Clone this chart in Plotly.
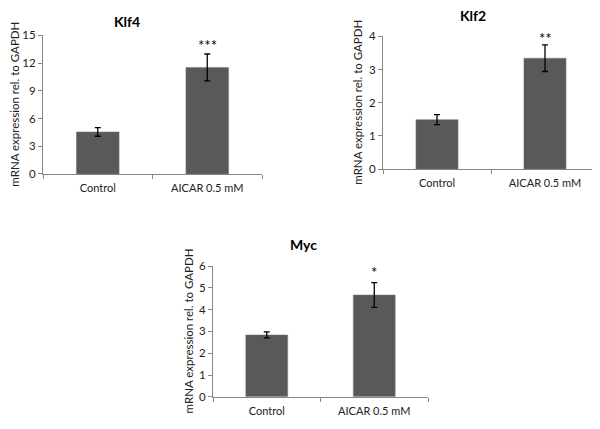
import plotly.graph_objects as go

# The page body has an 8px margin, so the figure is drawn 8px smaller and
# all pixel placements below are shifted by OFF.
OFF = 8
W, H = 600 - OFF, 429 - OFF

categories = ["Control", "AICAR 0.5 mM"]

klf4_values = [4.55, 11.53]
klf4_errors = [0.47, 1.45]
klf2_values = [1.49, 3.34]
klf2_errors = [0.15, 0.40]
myc_values = [2.84, 4.67]
myc_errors = [0.14, 0.57]

panel_titles = ["Klf4", "Klf2", "Myc"]
significance = ["***", "**", "*"]
star_levels = [14.0, 3.95, 5.72]

klf4_ticks = [0, 3, 6, 9, 12, 15]
klf2_ticks = [0, 1, 2, 3, 4]
myc_ticks = [0, 1, 2, 3, 4, 5, 6]

y_title = "mRNA expression rel. to GAPDH"

BAR = "#595959"
AXIS = "#868686"
FONT = "Lato, 'Liberation Sans', sans-serif"

# pixel boxes of plot areas in the screenshot: (x0, x1, ytop, ybottom)
boxes = [(43, 262, 29, 172), (383, 599, 30, 167), (213, 428, 267, 402)]
title_pos = [(127, 15), (473, 9), (303, 245)]
ytitle_x = [15, 358, 188]

values = [klf4_values, klf2_values, myc_values]
errors = [klf4_errors, klf2_errors, myc_errors]
ticks = [klf4_ticks, klf2_ticks, myc_ticks]


def px(x):
    return (x - OFF) / W


def py(y):
    return 1 - (y - OFF) / H


fig = go.Figure()
layout = {}
annotations = []
for i in range(3):
    n = "" if i == 0 else str(i + 1)
    x0, x1, yt, yb = boxes[i]
    fig.add_trace(go.Bar(
        x=categories, y=values[i],
        error_y=dict(type="data", array=errors[i], color="black", thickness=1.3, width=3),
        marker=dict(color=BAR, line=dict(color="#7a7a7a", width=0.5)),
        width=0.39, xaxis="x" + n, yaxis="y" + n, showlegend=False,
    ))
    layout["xaxis" + n] = dict(
        domain=[px(x0), min(px(x1), 1)], anchor="y" + n, showline=True, linecolor=AXIS,
        linewidth=1, ticks="outside", tickson="boundaries", ticklen=4, tickcolor=AXIS,
        showgrid=False, tickfont=dict(size=11, color="#222"), ticklabelstandoff=4,
        fixedrange=True,
    )
    layout["yaxis" + n] = dict(
        domain=[py(yb), py(yt)], anchor="x" + n, range=[0, ticks[i][-1]],
        tickvals=ticks[i], showline=True, linecolor=AXIS, linewidth=1,
        ticks="outside", ticklen=4, tickcolor=AXIS, showgrid=False, zeroline=False,
        tickfont=dict(size=11.5, color="#222"),
    )
    annotations.append(dict(
        text="<b>" + panel_titles[i] + "</b>", xref="paper", yref="paper",
        x=px(title_pos[i][0]), y=py(title_pos[i][1]), showarrow=False,
        xanchor="center", yanchor="middle", font=dict(size=14, color="black"),
    ))
    annotations.append(dict(
        text=y_title, xref="paper", yref="paper", textangle=-90,
        x=px(ytitle_x[i]), y=py((yt + yb) / 2), showarrow=False,
        xanchor="center", yanchor="middle", font=dict(size=11.5, color="#222"),
    ))
    annotations.append(dict(
        text=significance[i], xref="x" + n, yref="y" + n,
        x=categories[1], y=star_levels[i], showarrow=False,
        xanchor="center", yanchor="middle", font=dict(size=15, color="black"),
    ))

fig.update_layout(
    width=W, height=H, margin=dict(l=0, r=0, t=0, b=0),
    paper_bgcolor="white", plot_bgcolor="white",
    font=dict(family=FONT), bargap=0.6, annotations=annotations,
    **layout,
)
fig.write_html("out.html")
